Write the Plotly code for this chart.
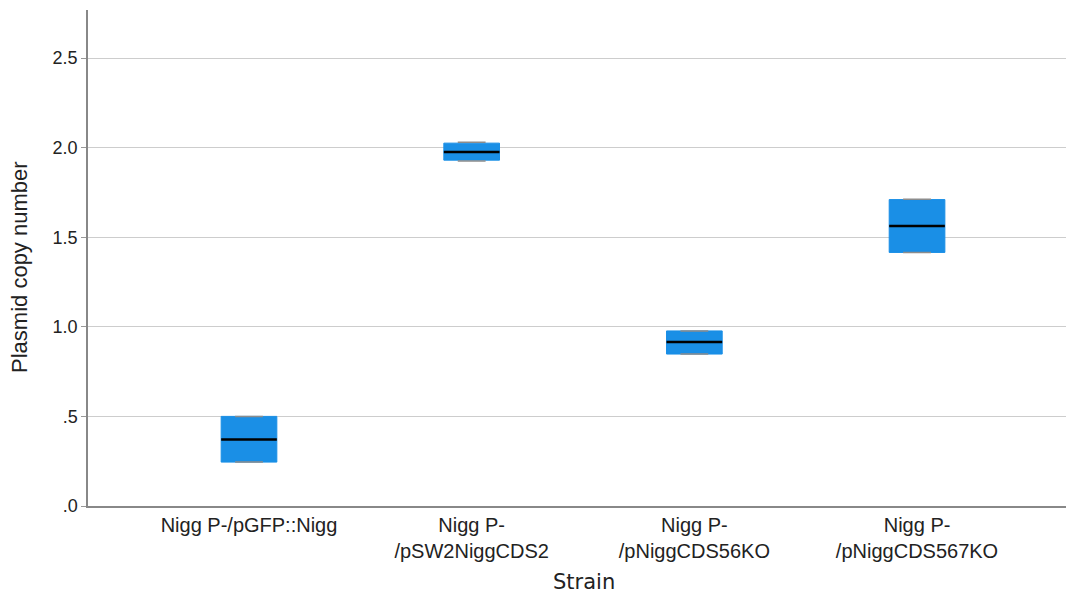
import plotly.graph_objects as go

# Strain categories (multi-line tick labels)
strains = [
    "Nigg P-/pGFP::Nigg",
    "Nigg P-<br>/pSW2NiggCDS2",
    "Nigg P-<br>/pNiggCDS56KO",
    "Nigg P-<br>/pNiggCDS567KO",
]

# Box-plot summary statistics of plasmid copy number
q1 = [0.245, 1.930, 0.848, 1.415]
median = [0.371, 1.975, 0.915, 1.563]
q3 = [0.500, 2.025, 0.977, 1.710]
whisker_low = [0.245, 1.925, 0.848, 1.415]
whisker_high = [0.500, 2.030, 0.977, 1.712]

y_tickvals = [0.0, 0.5, 1.0, 1.5, 2.0, 2.5]
y_ticktext = [".0", ".5", "1.0", "1.5", "2.0", "2.5"]

BOX_BLUE = "#1a8fe6"
CAP_GREY = "#8c8c8c"
BOX_W = 0.25

fig = go.Figure()

# Interquartile boxes
fig.add_trace(go.Box(
    x=strains, q1=q1, median=q1, q3=q3,
    lowerfence=q1, upperfence=q3,
    width=BOX_W, fillcolor=BOX_BLUE,
    line=dict(color=BOX_BLUE, width=1),
    whiskerwidth=0, hoverinfo="skip", showlegend=False,
))

# Whisker caps
for vals in (whisker_low, whisker_high):
    fig.add_trace(go.Box(
        x=strains, q1=vals, median=vals, q3=vals,
        lowerfence=vals, upperfence=vals,
        width=BOX_W / 2, fillcolor="rgba(0,0,0,0)",
        line=dict(color=CAP_GREY, width=1.5),
        whiskerwidth=0, hoverinfo="skip", showlegend=False,
    ))

# Median lines
fig.add_trace(go.Box(
    x=strains, q1=median, median=median, q3=median,
    lowerfence=median, upperfence=median,
    width=BOX_W, fillcolor="rgba(0,0,0,0)",
    line=dict(color="black", width=2.5),
    whiskerwidth=0, hoverinfo="skip", showlegend=False,
))

fig.update_layout(
    width=1068, height=596,
    margin=dict(l=88, r=2, t=10, b=90),
    paper_bgcolor="white", plot_bgcolor="white",
    boxmode="overlay",
    font=dict(family="Liberation Sans, Arial, sans-serif", color="#222"),
)

fig.update_xaxes(
    type="category",
    range=[-0.723, 3.669],
    showgrid=False,
    showline=True, linecolor="#888", linewidth=1.5,
    ticks="", tickfont=dict(size=20, color="#222"),
)

fig.update_yaxes(
    range=[0, 2.768],
    tickvals=y_tickvals, ticktext=y_ticktext,
    showgrid=True, gridcolor="#cdcdcd", gridwidth=1,
    zeroline=False,
    showline=True, linecolor="#888", linewidth=1.5,
    ticks="outside", ticklen=5, tickcolor="#999",
    tickfont=dict(size=18, color="#222"),
)

# X-axis title
fig.add_annotation(
    text="Strain",
    xref="paper", x=0.507, xanchor="center",
    yref="paper", y=0, yanchor="middle", yshift=-76,
    showarrow=False,
    font=dict(family="DejaVu Sans", size=21, color="#222"),
)

# Y-axis title, placed as a rotated annotation
fig.add_annotation(
    text="Plasmid copy number",
    textangle=-90,
    xref="paper", x=0, xanchor="center", xshift=-68,
    yref="y", y=1.334, yanchor="middle",
    showarrow=False,
    font=dict(family="Liberation Sans", size=22, color="#222"),
)

fig.write_html("out.html")
